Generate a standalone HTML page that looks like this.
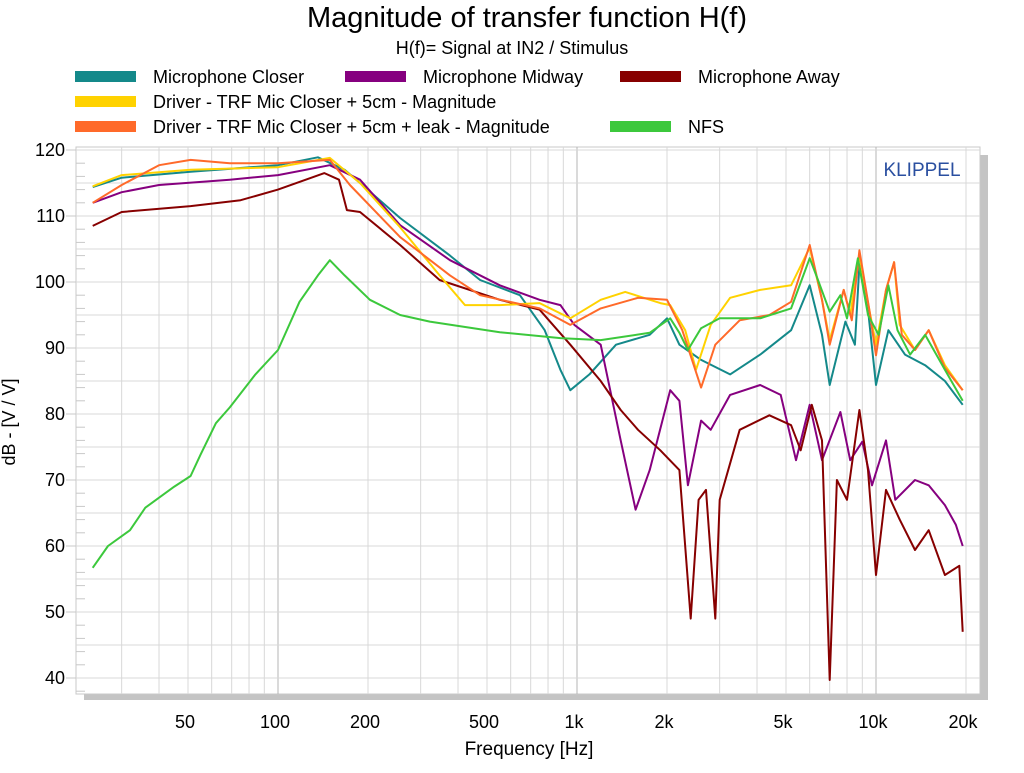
<!DOCTYPE html>
<html><head><meta charset="utf-8"><style>
body{margin:0;background:#fff;font-family:"Liberation Sans",sans-serif;}
svg text{font-family:"Liberation Sans",sans-serif;}
</style></head><body>
<svg id="chart" width="1024" height="768" xmlns="http://www.w3.org/2000/svg">
<text x="527" y="27" font-size="29" text-anchor="middle">Magnitude of transfer function H(f)</text>
<text x="512" y="54" font-size="18" text-anchor="middle">H(f)= Signal at IN2 / Stimulus</text>
<g id="legend"></g>
<rect x="84" y="155" width="904" height="545" fill="#c4c4c4"/>
<rect x="76" y="147" width="904" height="547" fill="#fff" stroke="#c8c8c8"/>
<g id="grid"></g>
<g id="ticks"></g>
<g id="series"></g>
<text x="922" y="176" font-size="19" fill="#2a4fa0" text-anchor="middle">KLIPPEL</text>
<text x="529" y="755" font-size="19" text-anchor="middle">Frequency [Hz]</text>
<text transform="translate(15,422) rotate(-90)" font-size="18" text-anchor="middle">dB - [V / V]</text>
</svg>
<script>
const xTickLabels=["50","100","200","500","1k","2k","5k","10k","20k"];
const xTickValues=[50,100,200,500,1000,2000,5000,10000,20000];
const yTickValues=[40,50,60,70,80,90,100,110,120];

const closerFreq=[24,30,51,100,136,167,188,256,376,474,644,780,880,950,1100,1350,1750,2000,2200,2600,3250,4100,5200,6000,6600,7000,7900,8500,8800,9400,10000,11000,12500,14600,17000,19500];
const closerDb=[114.4,115.8,116.7,117.7,118.9,117,115,109.7,104,100.3,98,92.7,86.7,83.6,86,90.5,92,94.5,90.5,88.2,86,89,92.7,99.5,92,84.4,94,90.5,102.6,95.8,84.4,92.7,89,87.4,85,81.4];
const midFreq=[24,30,40,69,100,149,188,256,376,552,750,880,980,1200,1400,1570,1750,2050,2200,2350,2600,2800,3250,4100,4800,5400,6000,6600,7600,8200,9000,9700,10800,11600,13500,15000,17000,18500,19500];
const midDb=[112,113.6,114.7,115.5,116.2,117.7,115.5,108.6,103.3,99.5,97.3,96.5,93.5,90.5,76,65.5,71.5,83.6,82,69.2,79,77.6,82.9,84.4,82.9,73,81.4,73,80.3,73,75.8,69.2,76,67,70,69.2,66.2,63.2,60];
const awayFreq=[24,30,51,75,100,143,160,170,188,256,347,552,750,950,1200,1400,1600,1900,2200,2400,2550,2700,2900,3000,3500,4400,5200,5600,6100,6600,7000,7400,8000,8800,9400,10000,10800,12000,13500,15000,17000,19000,19500];
const awayDb=[108.5,110.6,111.5,112.4,114,116.5,115.5,110.9,110.6,105.6,100.3,97.3,95.8,90.5,85,80.6,77.6,74.5,71.5,49,67,68.5,49,67,77.6,79.8,78.3,74.5,81.4,76,39.7,70,67,80.6,71.5,55.6,68.5,64,59.4,62.4,55.6,57,47];
const driverFreq=[24,30,51,100,149,188,256,347,422,552,750,950,1200,1450,1900,2050,2300,2500,2800,3250,4100,5200,6000,6600,7000,7800,8200,8800,9500,10000,10800,11500,12000,13500,15000,17000,19500];
const driverDb=[114.5,116.2,117,117.4,118.8,115,108.3,101,96.5,96.5,96.8,94.5,97.3,98.5,96.8,96.5,92.7,86.7,93.5,97.6,98.8,99.5,105.2,97.3,91.2,98.8,95,104,95.8,90.5,98.8,103,93.5,89.7,92.7,87.4,83.6];
const leakFreq=[24,30,40,51,69,100,149,174,256,376,474,750,950,1200,1600,2000,2250,2600,2900,3500,4400,5200,6000,6600,7000,7800,8300,8800,9500,10000,10800,11500,12200,13500,15000,17000,19500];
const leakDb=[112,114.7,117.7,118.5,118,118,118.5,114.7,106.8,101,98,96,93.5,96,97.6,97.3,92.7,84,90.5,94.2,95,97,105.6,97.3,90.5,98.8,94.2,104.8,95.8,88.9,98.8,103,92,89.7,92.7,87,83.6];
const nfsFreq=[24,27,32,36,45,51,55,62,69,84,100,118,136,149,167,203,256,322,552,880,1200,1750,2050,2200,2350,2600,3000,4100,5200,6000,6400,7000,7600,8000,8700,9400,10200,11000,11800,13000,14600,17000,19500];
const nfsDb=[56.7,60,62.4,65.8,69,70.6,73.8,78.6,81,86,89.7,97,101,103.3,101,97.3,95,94,92.4,91.5,91.2,92.3,94.5,92.3,89.7,93,94.5,94.5,96,103.6,100.3,95.5,98,94.5,103.6,95,92,99.5,92.7,89,92,86.7,82];

const seriesNames=["Microphone Closer","Microphone Midway","Microphone Away","Driver - TRF Mic Closer + 5cm - Magnitude","Driver - TRF Mic Closer + 5cm + leak - Magnitude","NFS"];
const seriesColors=["#14898a","#86007f","#870000","#ffd200","#ff6a2a","#3cc83c"];

const NS="http://www.w3.org/2000/svg";
const X=f=>278+(Math.log10(f)-2)*299;
const Y=v=>150+(120-v)*6.6;
const L=76,R=980,T=147,B=694;
function mk(tag,attrs,parent){const e=document.createElementNS(NS,tag);for(const k in attrs)e.setAttribute(k,attrs[k]);parent.appendChild(e);return e;}
const grid=document.getElementById('grid'),ticks=document.getElementById('ticks'),ser=document.getElementById('series'),leg=document.getElementById('legend');
for(let d=10;d<=10000;d*=10){for(let m=1;m<10;m++){const f=d*m;const x=X(f);if(x<=L||x>=R)continue;
 const ln=mk('line',{x1:x,x2:x,y1:T,y2:B,stroke:(m===1?'#b4b4b4':'#d8d8d8'),'stroke-width':1},grid);
 
 }}
for(let v=40;v<=120;v+=5){const y=Y(v);
 const ln=mk('line',{x1:L,x2:R,y1:y,y2:y,stroke:'#d8d8d8','stroke-width':1},grid);
 
 }
for(let v=38;v<=120;v+=2){if(v%10===0)continue;const y=Y(v);
 const ln=mk('line',{x1:L,x2:L+9,y1:y,y2:y,stroke:'#c8c8c8','stroke-width':1},grid);
 
 }
xTickValues.forEach((f,i)=>{const t=mk('text',{x:X(f)-3,y:728,'font-size':18,'text-anchor':'middle'},ticks);t.textContent=xTickLabels[i];
 
 });
yTickValues.forEach(v=>{const t=mk('text',{x:65,y:Y(v)+6,'font-size':18,'text-anchor':'end'},ticks);t.textContent=v;
 
 
 const tk=mk('line',{x1:66,x2:76,y1:Y(v),y2:Y(v),stroke:'#c8c8c8'},ticks);
 
 });
const data=[[closerFreq,closerDb],[midFreq,midDb],[awayFreq,awayDb],[driverFreq,driverDb],[leakFreq,leakDb],[nfsFreq,nfsDb]];
const keys=['closer','midway','away','driver','driver-leak','nfs'];
data.forEach((s,i)=>{const pts=s[0].map((f,j)=>X(f).toFixed(1)+','+Y(s[1][j]).toFixed(1)).join(' ');
 const p=mk('polyline',{points:pts,fill:'none',stroke:seriesColors[i],'stroke-width':2,'stroke-linejoin':'round'},ser);
 
 });
const legPos=[[75,77],[345,77],[620,77],[75,102],[75,127],[610,127]];
seriesNames.forEach((n,i)=>{const [x,y]=legPos[i];
 const g=mk('g',{},leg);
 
 
 mk('rect',{x:x,y:y-6,width:61,height:11,fill:seriesColors[i]},g);
 const t=mk('text',{x:x+78,y:y+6,'font-size':18},g);t.textContent=n;});
</script>
</body></html>
